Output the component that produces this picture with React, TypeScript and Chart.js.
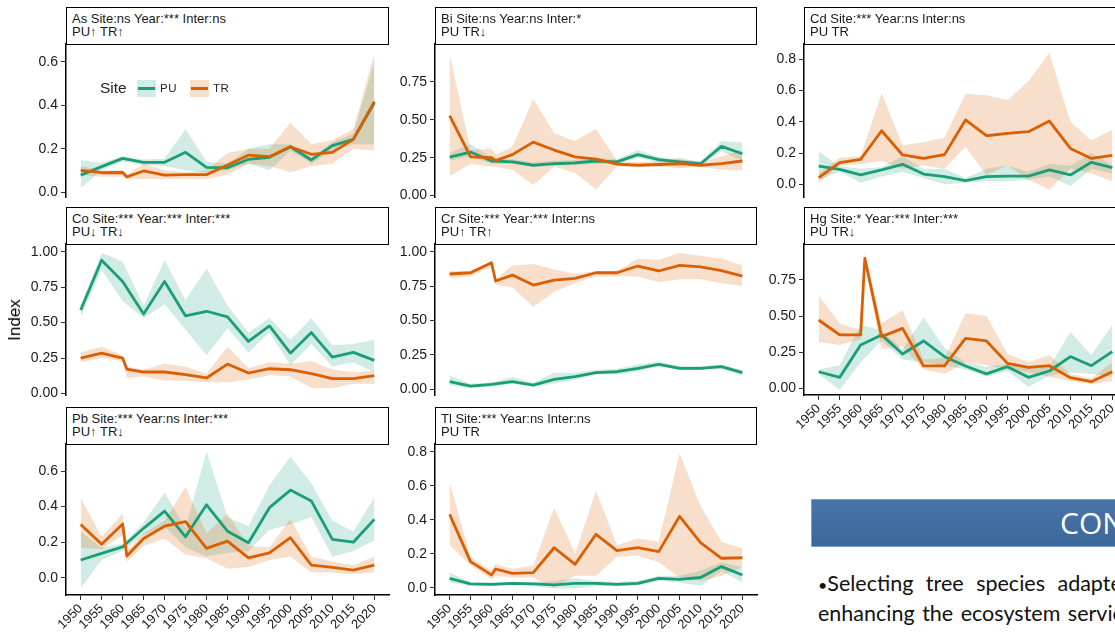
import React, { useEffect, useRef } from "react";
import { Chart, registerables } from "chart.js";
Chart.register(...registerables);

// ---------- data ----------
const puYears = [1950, 1955, 1960, 1965, 1970, 1975, 1980, 1985, 1990, 1995, 2000, 2005, 2010, 2015, 2020];
const trYears = [1950, 1955, 1960, 1961, 1965, 1970, 1975, 1980, 1985, 1990, 1995, 2000, 2005, 2010, 2015, 2020];
const yearTicks = [1950, 1955, 1960, 1965, 1970, 1975, 1980, 1985, 1990, 1995, 2000, 2005, 2010, 2015, 2020];

// As
const asPU = [0.078, 0.117, 0.155, 0.137, 0.137, 0.183, 0.114, 0.112, 0.151, 0.16, 0.209, 0.148, 0.214, 0.243, 0.412];
const asPULo = [0.017, 0.1, 0.14, 0.125, 0.12, 0.1, 0.09, 0.1, 0.13, 0.1, 0.19, 0.13, 0.19, 0.22, 0.22];
const asPUHi = [0.148, 0.135, 0.165, 0.15, 0.155, 0.29, 0.14, 0.13, 0.2, 0.22, 0.22, 0.16, 0.23, 0.27, 0.6];
const asTR = [0.1, 0.089, 0.09, 0.07, 0.097, 0.078, 0.08, 0.08, 0.125, 0.17, 0.163, 0.209, 0.174, 0.183, 0.243, 0.417];
const asTRLo = [0.08, 0.07, 0.07, 0.06, 0.06, 0.06, 0.06, 0.06, 0.08, 0.13, 0.12, 0.09, 0.12, 0.13, 0.2, 0.19];
const asTRHi = [0.12, 0.1, 0.1, 0.08, 0.13, 0.1, 0.09, 0.1, 0.18, 0.2, 0.2, 0.32, 0.22, 0.24, 0.29, 0.64];
const asTicks = [0, 0.2, 0.4, 0.6];

// Bi
const biPU = [0.254, 0.287, 0.228, 0.222, 0.2, 0.21, 0.215, 0.228, 0.222, 0.27, 0.237, 0.222, 0.21, 0.324, 0.276];
const biPULo = [0.23, 0.26, 0.21, 0.21, 0.19, 0.2, 0.2, 0.21, 0.21, 0.25, 0.22, 0.21, 0.2, 0.29, 0.23];
const biPUHi = [0.28, 0.34, 0.25, 0.24, 0.22, 0.23, 0.235, 0.25, 0.24, 0.3, 0.255, 0.24, 0.225, 0.36, 0.35];
const biTR = [0.526, 0.255, 0.25, 0.23, 0.27, 0.352, 0.3, 0.255, 0.24, 0.207, 0.2, 0.205, 0.21, 0.2, 0.21, 0.228];
const biTRLo = [0.128, 0.21, 0.19, 0.19, 0.17, 0.07, 0.19, 0.15, 0.04, 0.19, 0.19, 0.19, 0.18, 0.19, 0.17, 0.165];
const biTRHi = [0.93, 0.3, 0.31, 0.27, 0.32, 0.635, 0.41, 0.36, 0.44, 0.23, 0.22, 0.23, 0.25, 0.22, 0.26, 0.3];
const biTicks = [0, 0.25, 0.5, 0.75];

// Cd
const cdPU = [0.117, 0.096, 0.06, 0.092, 0.128, 0.066, 0.049, 0.023, 0.049, 0.053, 0.053, 0.092, 0.06, 0.141, 0.107];
const cdPULo = [0.03, 0.08, 0.01, 0.05, 0.08, 0.04, 0.0, 0.01, 0.02, 0.02, 0.03, 0.05, -0.01, 0.1, 0.07];
const cdPUHi = [0.21, 0.115, 0.1, 0.11, 0.18, 0.1, 0.1, 0.04, 0.1, 0.12, 0.08, 0.13, 0.12, 0.2, 0.12];
const cdTR = [0.043, 0.139, 0.16, null, 0.343, 0.188, 0.166, 0.19, 0.412, 0.311, 0.326, 0.337, 0.405, 0.23, 0.166, 0.186];
const cdTRLo = [0.01, 0.12, 0.13, null, 0.15, 0.1, 0.12, 0.1, 0.24, 0.06, 0.12, 0.03, -0.035, 0.1, 0.07, 0.02];
const cdTRHi = [0.07, 0.17, 0.18, null, 0.585, 0.25, 0.27, 0.3, 0.58, 0.57, 0.54, 0.66, 0.84, 0.4, 0.28, 0.35];
const cdTicks = [0, 0.2, 0.4, 0.6, 0.8];

// Co
const coPU = [0.589, 0.94, 0.79, 0.56, 0.79, 0.547, 0.58, 0.54, 0.367, 0.477, 0.285, 0.43, 0.257, 0.29, 0.234];
const coPULo = [0.54, 0.87, 0.65, 0.53, 0.63, 0.45, 0.27, 0.46, 0.29, 0.43, 0.2, 0.35, 0.19, 0.22, 0.15];
const coPUHi = [0.62, 0.99, 0.93, 0.62, 0.94, 0.66, 0.88, 0.62, 0.43, 0.53, 0.38, 0.53, 0.34, 0.35, 0.38];
const coTR = [0.25, 0.285, 0.25, 0.173, 0.152, 0.152, 0.133, 0.11, 0.208, 0.145, 0.175, 0.168, 0.14, 0.105, 0.105, 0.126];
const coTRLo = [0.22, 0.25, 0.23, 0.11, 0.12, 0.09, 0.09, 0.08, 0.08, 0.1, 0.13, 0.12, 0.04, 0.04, 0.07, 0.07];
const coTRHi = [0.29, 0.33, 0.27, 0.19, 0.17, 0.21, 0.19, 0.14, 0.33, 0.18, 0.22, 0.21, 0.23, 0.17, 0.15, 0.16];
const coTicks = [0, 0.25, 0.5, 0.75, 1];

// Cr
const crPU = [0.056, 0.024, 0.036, 0.056, 0.031, 0.073, 0.092, 0.121, 0.128, 0.153, 0.182, 0.153, 0.153, 0.165, 0.121];
const crPULo = [0.03, 0.01, 0.02, 0.04, 0.02, 0.04, 0.07, 0.11, 0.11, 0.13, 0.17, 0.14, 0.14, 0.15, 0.1];
const crPUHi = [0.1, 0.04, 0.05, 0.09, 0.05, 0.12, 0.12, 0.14, 0.15, 0.18, 0.2, 0.17, 0.17, 0.18, 0.14];
const crTR = [0.838, 0.847, 0.92, 0.787, 0.83, 0.758, 0.794, 0.806, 0.847, 0.847, 0.896, 0.86, 0.9, 0.89, 0.862, 0.823];
const crTRLo = [0.81, 0.82, 0.89, 0.76, 0.74, 0.6, 0.71, 0.77, 0.82, 0.82, 0.82, 0.78, 0.8, 0.8, 0.77, 0.75];
const crTRHi = [0.86, 0.86, 0.93, 0.8, 0.9, 0.91, 0.87, 0.84, 0.86, 0.86, 0.95, 0.94, 0.99, 0.97, 0.95, 0.9];
const crTicks = [0, 0.25, 0.5, 0.75, 1];

// Hg
const hgPU = [0.115, 0.076, 0.3, 0.37, 0.238, 0.328, 0.219, 0.155, 0.1, 0.15, 0.076, 0.12, 0.22, 0.157, 0.254];
const hgPULo = [0.1, -0.01, 0.18, 0.33, 0.2, 0.18, 0.16, 0.13, 0.08, 0.12, 0.01, 0.09, 0.11, 0.1, 0.08];
const hgPUHi = [0.13, 0.16, 0.44, 0.4, 0.27, 0.49, 0.28, 0.18, 0.15, 0.17, 0.15, 0.15, 0.39, 0.23, 0.44];
const hgTR = [0.473, 0.37, 0.37, 0.9, 0.358, 0.415, 0.155, 0.155, 0.346, 0.328, 0.173, 0.145, 0.157, 0.074, 0.046, 0.115];
const hgTRLo = [0.32, 0.3, 0.34, 0.85, 0.27, 0.29, 0.13, 0.1, 0.18, 0.16, 0.13, 0.11, 0.08, 0.05, 0.03, 0.05];
const hgTRHi = [0.64, 0.45, 0.4, 0.94, 0.45, 0.54, 0.2, 0.21, 0.52, 0.5, 0.24, 0.18, 0.23, 0.1, 0.07, 0.18];
const hgTicks = [0, 0.25, 0.5, 0.75];

// Pb
const pbPU = [0.1, 0.137, 0.174, 0.278, 0.375, 0.23, 0.41, 0.262, 0.197, 0.394, 0.493, 0.431, 0.216, 0.2, 0.328];
const pbPULo = [-0.06, 0.1, 0.15, 0.24, 0.29, 0.17, 0.12, 0.14, 0.15, 0.27, 0.3, 0.34, 0.12, 0.15, 0.21];
const pbPUHi = [0.26, 0.17, 0.19, 0.31, 0.48, 0.28, 0.71, 0.34, 0.29, 0.52, 0.68, 0.53, 0.32, 0.26, 0.45];
const pbTR = [0.3, 0.188, 0.302, 0.122, 0.221, 0.29, 0.315, 0.165, 0.206, 0.112, 0.14, 0.225, 0.071, 0.058, 0.043, 0.071];
const pbTRLo = [0.17, 0.16, 0.24, 0.09, 0.18, 0.22, 0.13, 0.11, 0.05, 0.06, 0.1, 0.12, 0.03, 0.03, 0.02, 0.03];
const pbTRHi = [0.45, 0.23, 0.36, 0.15, 0.25, 0.32, 0.51, 0.25, 0.36, 0.18, 0.17, 0.33, 0.12, 0.09, 0.07, 0.12];
const pbTicks = [0, 0.2, 0.4, 0.6];

// Tl
const tlPU = [0.055, 0.022, 0.02, 0.025, 0.022, 0.016, 0.025, 0.025, 0.02, 0.025, 0.055, 0.049, 0.06, 0.124, 0.075];
const tlPULo = [0.03, 0.01, 0.01, 0.015, 0.01, -0.005, -0.005, 0.01, 0.01, 0.015, 0.04, 0.03, 0.01, 0.1, 0.03];
const tlPUHi = [0.09, 0.03, 0.03, 0.035, 0.035, 0.04, 0.055, 0.04, 0.035, 0.04, 0.07, 0.07, 0.1, 0.15, 0.12];
const tlTR = [0.431, 0.153, 0.075, 0.11, 0.084, 0.088, 0.235, 0.137, 0.314, 0.218, 0.235, 0.212, 0.42, 0.265, 0.173, 0.176];
const tlTRLo = [0.25, 0.13, 0.05, 0.07, 0.06, 0.06, 0.0, 0.07, 0.07, 0.18, 0.19, 0.15, 0.06, 0.04, 0.07, 0.12];
const tlTRHi = [0.62, 0.18, 0.1, 0.14, 0.11, 0.13, 0.47, 0.2, 0.57, 0.25, 0.29, 0.27, 0.79, 0.48, 0.27, 0.23];
const tlTicks = [0, 0.2, 0.4, 0.6, 0.8];

// ---------- styling / layout ----------
const GREEN = "#1B9E77";
const ORANGE = "#D95F02";
const GREEN_BAND = "rgba(27,158,119,0.2)";
const ORANGE_BAND = "rgba(217,95,2,0.2)";
const FONT = "'Liberation Sans', Arial, Helvetica, sans-serif";
const TEXT = "#1a1a1a";

const colLeft = [66, 435, 804];
const colRight = [389, 757, 1127];
const rowTop = [44, 244, 444];
const rowBottom = [197, 395, 595];
const stripTop = [7, 207, 407];

type PanelCfg = {
  title: string;
  trend: string;
  pu: (number | null)[]; puLo: (number | null)[]; puHi: (number | null)[];
  tr: (number | null)[]; trLo: (number | null)[]; trHi: (number | null)[];
  ticks: number[]; dec: number; yMin: number; yMax: number;
  row: number; col: number; xAxis: boolean;
};

const panels: PanelCfg[] = [
  { title: "As Site:ns Year:*** Inter:ns", trend: "PU↑ TR↑", pu: asPU, puLo: asPULo, puHi: asPUHi, tr: asTR, trLo: asTRLo, trHi: asTRHi, ticks: asTicks, dec: 1, yMin: -0.023, yMax: 0.683, row: 0, col: 0, xAxis: false },
  { title: "Bi Site:ns Year:ns Inter:*", trend: "PU TR↓", pu: biPU, puLo: biPULo, puHi: biPUHi, tr: biTR, trLo: biTRLo, trHi: biTRHi, ticks: biTicks, dec: 2, yMin: -0.009, yMax: 0.998, row: 0, col: 1, xAxis: false },
  { title: "Cd Site:*** Year:ns Inter:ns", trend: "PU TR", pu: cdPU, puLo: cdPULo, puHi: cdPUHi, tr: cdTR, trLo: cdTRLo, trHi: cdTRHi, ticks: cdTicks, dec: 1, yMin: -0.081, yMax: 0.898, row: 0, col: 2, xAxis: false },
  { title: "Co Site:*** Year:*** Inter:***", trend: "PU↓ TR↓", pu: coPU, puLo: coPULo, puHi: coPUHi, tr: coTR, trLo: coTRLo, trHi: coTRHi, ticks: coTicks, dec: 2, yMin: -0.01, yMax: 1.054, row: 1, col: 0, xAxis: false },
  { title: "Cr Site:*** Year:*** Inter:ns", trend: "PU↑ TR↑", pu: crPU, puLo: crPULo, puHi: crPUHi, tr: crTR, trLo: crTRLo, trHi: crTRHi, ticks: crTicks, dec: 2, yMin: -0.041, yMax: 1.056, row: 1, col: 1, xAxis: false },
  { title: "Hg Site:* Year:*** Inter:***", trend: "PU TR↓", pu: hgPU, puLo: hgPULo, puHi: hgPUHi, tr: hgTR, trLo: hgTRLo, trHi: hgTRHi, ticks: hgTicks, dec: 2, yMin: -0.046, yMax: 0.999, row: 1, col: 2, xAxis: true },
  { title: "Pb Site:*** Year:ns Inter:***", trend: "PU↑ TR↓", pu: pbPU, puLo: pbPULo, puHi: pbPUHi, tr: pbTR, trLo: pbTRLo, trHi: pbTRHi, ticks: pbTicks, dec: 1, yMin: -0.097, yMax: 0.752, row: 2, col: 0, xAxis: true },
  { title: "Tl Site:*** Year:ns Inter:ns", trend: "PU TR", pu: tlPU, puLo: tlPULo, puHi: tlPUHi, tr: tlTR, trLo: tlTRLo, trHi: tlTRHi, ticks: tlTicks, dec: 1, yMin: -0.043, yMax: 0.845, row: 2, col: 1, xAxis: true },
];

const L = 60, T = 12, R = 6, B = 45, E = 10;

function pts(xs: number[], ys: (number | null)[]) {
  return xs.map((x, i) => ({ x, y: ys[i] })).filter((d) => d.y !== null && d.y !== undefined);
}

function zeroPad(s: any) {
  s.paddingLeft = 0; s.paddingRight = 0; s.paddingTop = 0; s.paddingBottom = 0;
}

function PanelChart({ p }: { p: PanelCfg }) {
  const ref = useRef<HTMLCanvasElement>(null);
  const plotW = colRight[p.col] - colLeft[p.col];
  const plotH = rowBottom[p.row] - rowTop[p.row];
  const bottom = p.xAxis ? B : E;
  const w = L + plotW + R;
  const h = T + plotH + bottom;
  useEffect(() => {
    if (!ref.current) return;
    const bandLine = { borderWidth: 0, pointRadius: 0, borderColor: "rgba(0,0,0,0)" };
    const chart = new Chart(ref.current, {
      type: "line",
      data: {
        datasets: [
          { data: pts(trYears, p.tr), borderColor: ORANGE, borderWidth: 2.8, pointRadius: 0, fill: false, order: 0 },
          { data: pts(puYears, p.pu), borderColor: GREEN, borderWidth: 2.8, pointRadius: 0, fill: false, order: 1 },
          { data: pts(trYears, p.trHi), ...bandLine, backgroundColor: ORANGE_BAND, fill: "+1", order: 2 },
          { data: pts(trYears, p.trLo), ...bandLine, fill: false, order: 2 },
          { data: pts(puYears, p.puHi), ...bandLine, backgroundColor: GREEN_BAND, fill: "+1", order: 3 },
          { data: pts(puYears, p.puLo), ...bandLine, fill: false, order: 3 },
        ] as any,
      },
      options: {
        responsive: false,
        animation: false,
        devicePixelRatio: 1,
        layout: { padding: { top: T, right: R, left: 0, bottom: p.xAxis ? 0 : E } },
        plugins: { legend: { display: false }, tooltip: { enabled: false } },
        elements: { line: { tension: 0, borderJoinStyle: "round", borderCapStyle: "butt" }, point: { radius: 0 } },
        scales: {
          x: {
            type: "linear",
            min: 1946.5,
            max: 2023.5,
            display: p.xAxis,
            afterBuildTicks: (s: any) => { s.ticks = yearTicks.map((v) => ({ value: v })); },
            afterFit: (s: any) => { s.height = p.xAxis ? B : 0; zeroPad(s); },
            ticks: {
              autoSkip: false, minRotation: 45, maxRotation: 45, padding: 1,
              color: TEXT, font: { family: FONT, size: 13 },
              callback: (v: any) => String(v),
            },
            grid: { display: true, drawOnChartArea: false, drawTicks: true, tickLength: 5, color: "#333", lineWidth: 1 },
            border: { display: true, color: "#000", width: 1.5 },
          },
          y: {
            type: "linear",
            min: p.yMin,
            max: p.yMax,
            afterBuildTicks: (s: any) => { s.ticks = p.ticks.map((v) => ({ value: v })); },
            afterFit: (s: any) => { s.width = L; zeroPad(s); },
            ticks: {
              autoSkip: false, padding: 3,
              color: TEXT, font: { family: FONT, size: 14 },
              callback: (v: any) => Number(v).toFixed(p.dec),
            },
            grid: { display: true, drawOnChartArea: false, drawTicks: true, tickLength: 5, color: "#333", lineWidth: 1 },
            border: { display: true, color: "#000", width: 1.5 },
          },
        },
      } as any,
    });
    return () => chart.destroy();
  }, []);
  return (
    <canvas
      ref={ref}
      width={w}
      height={h}
      style={{ position: "absolute", left: colLeft[p.col] - L, top: rowTop[p.row] - T, width: w, height: h, display: "block" }}
    />
  );
}

function Strip({ p }: { p: PanelCfg }) {
  return (
    <div
      style={{
        position: "absolute",
        left: colLeft[p.col],
        top: stripTop[p.row],
        width: colRight[p.col] - colLeft[p.col],
        height: rowTop[p.row] - stripTop[p.row] + 1,
        boxSizing: "border-box",
        border: "1.5px solid #000",
        background: "#fff",
        fontFamily: FONT,
        fontSize: 13,
        lineHeight: "12.5px",
        color: TEXT,
        paddingLeft: 5,
        paddingTop: 5,
        whiteSpace: "nowrap",
        overflow: "hidden",
      }}
    >
      <div>{p.title}</div>
      <div>{p.trend}</div>
    </div>
  );
}

function LegendKey({ left, color, band }: { left: number; color: string; band: string }) {
  return (
    <div style={{ position: "absolute", left, top: 80, width: 19, height: 17, background: band }}>
      <div style={{ position: "absolute", left: 1, right: 1, top: 7, height: 3, background: color }} />
    </div>
  );
}

export default function App() {
  return (
    <div
      style={{
        position: "fixed", left: 0, top: 0, width: "100vw", height: "100vh",
        overflow: "hidden", background: "#fff", fontFamily: FONT,
      }}
    >
      {panels.map((p, i) => <PanelChart key={"c" + i} p={p} />)}
      {panels.map((p, i) => <Strip key={"s" + i} p={p} />)}

      {/* y axis title */}
      <div
        style={{
          position: "absolute", left: 14.5, top: 320,
          transform: "translate(-50%, -50%) rotate(-90deg)",
          fontSize: 17, color: "#000", whiteSpace: "nowrap",
        }}
      >
        Index
      </div>

      {/* legend inside first panel */}
      <div style={{ position: "absolute", left: 100, top: 79, fontSize: 15.5, color: "#222", lineHeight: "18px" }}>Site</div>
      <LegendKey left={137} color={GREEN} band={GREEN_BAND} />
      <div style={{ position: "absolute", left: 160, top: 82, fontSize: 11.5, color: "#222", lineHeight: "13px", letterSpacing: 0.5 }}>PU</div>
      <LegendKey left={190} color={ORANGE} band={ORANGE_BAND} />
      <div style={{ position: "absolute", left: 213, top: 82, fontSize: 11.5, color: "#222", lineHeight: "13px", letterSpacing: 0.5 }}>TR</div>

      {/* slide banner */}
      <div
        style={{
          position: "absolute", left: 811, top: 499, width: 420, height: 48,
          boxSizing: "border-box", border: "1px solid #7d9cc4",
          background: "linear-gradient(to bottom, #4874a8 0%, #3b6799 100%)",
        }}
      />
      <div
        style={{
          position: "absolute", left: 1060, top: 504, lineHeight: "38px",
          fontFamily: "'Open Sans', sans-serif", fontSize: 30, color: "#fff", whiteSpace: "nowrap",
        }}
      >
        CONCLUSIONS
      </div>
      <div
        style={{
          position: "absolute", left: 818, top: 568, lineHeight: "30px",
          fontFamily: "Lato, 'Open Sans', sans-serif", fontSize: 21.5, color: "#111",
          whiteSpace: "nowrap", wordSpacing: 7,
        }}
      >
        <span style={{ fontSize: 16 }}>•</span>Selecting tree species adapted
      </div>
      <div
        style={{
          position: "absolute", left: 818, top: 598, lineHeight: "30px",
          fontFamily: "Lato, 'Open Sans', sans-serif", fontSize: 21.5, color: "#111",
          whiteSpace: "nowrap", wordSpacing: 2,
        }}
      >
        enhancing the ecosystem services
      </div>
    </div>
  );
}
